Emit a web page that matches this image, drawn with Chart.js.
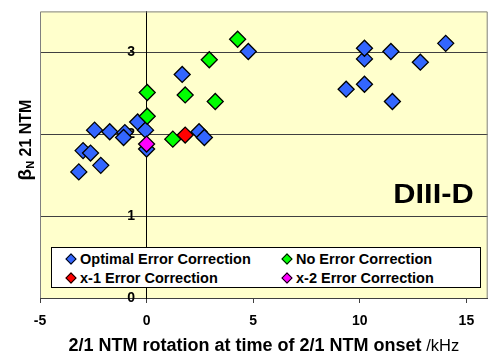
<!DOCTYPE html>
<html>
<head>
<meta charset="utf-8">
<script src="https://cdn.jsdelivr.net/npm/chart.js@4.4.1/dist/chart.umd.min.js"></script>
<style>
  body { margin: 0; background: #fff; }
  #wrap { position: relative; width: 497px; height: 358px; }
  #legend {
    position: absolute; left: 51px; top: 247px; width: 430px; height: 41px;
    box-sizing: border-box; border: 1px solid #000; background: #fff;
    display: grid; grid-template-columns: 216px 1fr; grid-auto-rows: 19px;
    padding: 1px 0 0 15px;
    font: bold 14.5px 'Liberation Sans', Arial, sans-serif; color: #000;
  }
  #legend .item { display: flex; align-items: center; white-space: nowrap; }
  #legend .mk { width: 6px; height: 6px; transform: rotate(45deg); border: 1px solid #000; margin-right: 5px; }
</style>
</head>
<body>
<div id="wrap">
  <canvas id="chart" width="497" height="358"></canvas>
  <div id="legend"></div>
</div>
<script>
// tick values
const xTicks = [-5, 0, 5, 10, 15];
const yTicks = [0, 1, 2, 3];

// Optimal Error Correction
const optX = [-3.18, -2.98, -2.63, -2.15, -2.44, -1.73, -1.02, -1.08, -0.42, -0.05, 0.0, 1.67, 2.46, 2.71, 4.77, 9.36, 10.22, 10.22, 10.22, 11.46, 11.53, 12.84, 14.03];
const optY = [1.54, 1.80, 1.77, 1.62, 2.05, 2.03, 2.02, 1.96, 2.15, 2.05, 1.82, 2.73, 2.03, 1.96, 3.01, 2.55, 2.61, 2.92, 3.05, 3.01, 2.40, 2.88, 3.11];
// No Error Correction
const noX = [0.03, 0.03, 1.23, 1.81, 2.94, 3.22, 4.27];
const noY = [2.51, 2.22, 1.94, 2.48, 2.91, 2.40, 3.16];
// x-1 Error Correction
const x1X = [1.81];
const x1Y = [1.99];
// x-2 Error Correction
const x2X = [0.0];
const x2Y = [1.88];

const FONT = "'Liberation Sans', Arial, sans-serif";
const pts = (xs, ys) => xs.map((x, i) => ({ x, y: ys[i] }));

const series = [
  { label: 'Optimal Error Correction', xs: optX, ys: optY, color: '#3366FF', order: 4 },
  { label: 'No Error Correction', xs: noX, ys: noY, color: '#00FF00', order: 3 },
  { label: 'x-1 Error Correction', xs: x1X, ys: x1Y, color: '#FF0000', order: 2 },
  { label: 'x-2 Error Correction', xs: x2X, ys: x2Y, color: '#FF00FF', order: 1 },
];

const decor = {
  id: 'decor',
  beforeDraw(chart) {
    const { ctx, chartArea: a } = chart;
    ctx.save();
    ctx.fillStyle = '#FFFFCC';
    ctx.fillRect(a.left, a.top, a.right - a.left, a.bottom - a.top);
    ctx.restore();
  },
  beforeDatasetsDraw(chart) {
    const { ctx, chartArea: a } = chart;
    ctx.save();
    ctx.strokeStyle = '#808080';
    ctx.lineWidth = 1;
    ctx.beginPath();
    ctx.moveTo(a.left + 0.5, a.bottom);
    ctx.lineTo(a.left + 0.5, a.top + 0.5);
    ctx.lineTo(a.right - 0.5, a.top + 0.5);
    ctx.lineTo(a.right - 0.5, a.bottom);
    ctx.stroke();
    // big label, slightly widened like the original
    ctx.fillStyle = '#000';
    ctx.font = 'bold 27px ' + FONT;
    ctx.textAlign = 'right';
    ctx.textBaseline = 'alphabetic';
    ctx.translate(a.right - 14, a.bottom - 95);
    ctx.scale(1.14, 1);
    ctx.fillText('DIII-D', 0, 0);
    ctx.restore();
  },
  afterDraw(chart) {
    const { ctx, chartArea: a } = chart;
    ctx.save();
    ctx.fillStyle = '#000';
    ctx.textBaseline = 'alphabetic';
    // x title: bold text + plain unit
    const t1 = '2/1 NTM rotation at time of 2/1 NTM onset', t2 = ' /kHz';
    const f1 = 'bold 18px ' + FONT, f2 = '16.5px ' + FONT;
    ctx.font = f1;
    const w1 = ctx.measureText(t1).width;
    ctx.font = f2;
    const w2 = ctx.measureText(t2).width;
    const x0 = (a.left + a.right) / 2 - (w1 + w2) / 2;
    ctx.textAlign = 'left';
    ctx.font = f1;
    ctx.fillText(t1, x0, 351);
    ctx.font = f2;
    ctx.fillText(t2, x0 + w1, 351);
    // y title with subscript N
    ctx.translate(31, 140);
    ctx.rotate(-Math.PI / 2);
    const parts = [
      { t: '\u03B2', f: 'bold 19px ' + FONT, dy: 0 },
      { t: 'N', f: 'bold 11px ' + FONT, dy: 3 },
      { t: ' 21 NTM', f: 'bold 16px ' + FONT, dy: 0 },
    ];
    let total = 0;
    parts.forEach(p => { ctx.font = p.f; p.w = ctx.measureText(p.t).width; total += p.w; });
    let cx = -total / 2;
    parts.forEach(p => { ctx.font = p.f; ctx.fillText(p.t, cx, p.dy); cx += p.w; });
    ctx.restore();
  }
};

const chart = new Chart(document.getElementById('chart'), {
  type: 'scatter',
  data: {
    datasets: series.map(s => ({
      label: s.label,
      data: pts(s.xs, s.ys),
      order: s.order,
      pointStyle: 'rectRot',
      pointRadius: 8,
      pointHoverRadius: 8,
      backgroundColor: s.color,
      borderColor: '#000',
      borderWidth: 1.3,
    }))
  },
  options: {
    responsive: false,
    animation: false,
    layout: { padding: { left: 40, top: 5, right: 7, bottom: 0 } },
    plugins: { legend: { display: false }, tooltip: { enabled: false } },
    scales: {
      x: {
        type: 'linear', min: -5, max: 16,
        afterBuildTicks: s => { s.ticks = xTicks.map(v => ({ value: v })); },
        afterFit: s => { s.height = 60; },
        grid: { drawOnChartArea: false, tickLength: 5, color: '#404040' },
        border: { color: '#404040' },
        ticks: { color: '#000', padding: 10, font: { family: FONT, size: 14, weight: 'bold' } },
      },
      y: {
        // axis crosses at x = 0, labels sit just left of it
        type: 'linear', min: 0, max: 3.5, position: { x: 0 },
        afterBuildTicks: s => { s.ticks = yTicks.map(v => ({ value: v })); },
        grid: { color: '#404040', tickLength: 5 },
        border: { color: '#000' },
        ticks: { color: '#000', font: { family: FONT, size: 14, weight: 'bold' }, callback: v => v + '   ' },
      }
    }
  },
  plugins: [decor]
});

// legend laid out as 2 columns, built from the datasets
const legendEl = document.getElementById('legend');
legendEl.innerHTML = series.map(s =>
  `<div class="item"><span class="mk" style="background:${s.color}"></span>${s.label}</div>`
).join('');
</script>
</body>
</html>
